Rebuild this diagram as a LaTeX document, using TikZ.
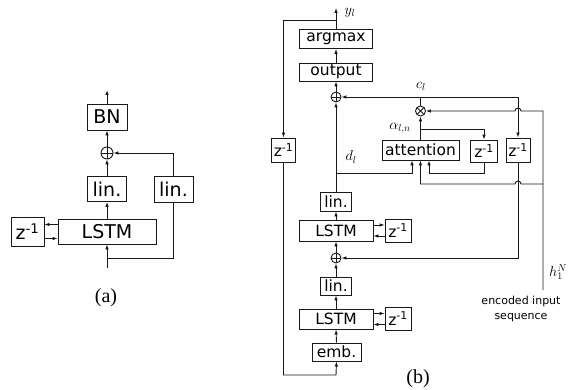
\documentclass[tikz,border=0pt]{standalone}
\usepackage{fontspec}
\setsansfont{DejaVu Sans}
\newfontfamily\capfont{Liberation Serif}
\usetikzlibrary{arrows.meta}
\begin{document}
\begin{tikzpicture}[x=1pt,y=1pt,
  line/.style={line width=0.9pt, black!90},
  arr/.style={line, -{Latex[length=5pt,width=3.6pt]}},
  boxa/.style={draw, line width=0.9pt, black!90, text=black, inner sep=0pt, font=\sffamily\fontsize{19}{19}\selectfont},
  boxb/.style={draw, line width=0.9pt, black!90, text=black, inner sep=0pt, font=\sffamily\fontsize{15.5}{15.5}\selectfont},
  zb/.style={boxb, minimum width=26, minimum height=23},
  sumstyle/.style={circle, draw, line width=0.9pt, black!90, inner sep=0pt},
  oplusnode/.style={sumstyle, path picture={\draw[line width=0.9pt, black!90] (path picture bounding box.north) -- (path picture bounding box.south) (path picture bounding box.west) -- (path picture bounding box.east);}},
  otimesnode/.style={sumstyle, path picture={\draw[line width=0.9pt, black!90] (path picture bounding box.north west) -- (path picture bounding box.south east) (path picture bounding box.north east) -- (path picture bounding box.south west);}},
  mlab/.style={inner sep=0pt, font=\fontsize{14.4}{16}\selectfont},
  captxt/.style={inner sep=0pt, font=\capfont\fontsize{20}{22}\selectfont}
  ]
\useasboundingbox (0,0) rectangle (572,-390);

% ---------------- (a) ----------------
\node[boxa, minimum width=40, minimum height=26] (BNa) at (107,-117) {BN};
\node[oplusnode, minimum size=12] (pa) at (107,-153) {};
\node[boxa, minimum width=39, minimum height=25] (linLa) at (107,-189) {lin.};
\node[boxa, minimum width=39, minimum height=26] (linRa) at (173.5,-189) {lin.};
\node[boxa, minimum width=98, minimum height=25] (lstma) at (107,-231.5) {LSTM};
\node[boxa, minimum width=33, minimum height=29] (za) at (27.5,-231.5) {z\textsuperscript{-1}};
\coordinate (ina) at (107,-268);
\coordinate (outa) at (107,-90);
\coordinate (bra) at (107,-258);
\coordinate (ha1) at (0,-224.5);
\coordinate (ha2) at (0,-238.5);

\draw[arr] (BNa.north) -- (outa);
\draw[arr] (pa.north) -- (BNa.south);
\draw[arr] (linLa.north) -- (pa.south);
\draw[arr] (linRa.north) |- (pa.east);
\draw[arr] (lstma.north) -- (linLa.south);
\draw[arr] (ina) -- (lstma.south);
\draw[line] (bra) -| (linRa.south);
\draw[arr] (lstma.west |- ha1) -- (za.east |- ha1);
\draw[arr] (za.east |- ha2) -- (lstma.west |- ha2);

\node[captxt] (capa) at (106,-298) {(a)};

% ---------------- (b) ----------------
\coordinate (yl) at (336,-8);
\node[mlab] (ylab) at (350,-13) {$y_l$};
\node[boxb, minimum width=73, minimum height=19] (argmax) at (336,-39) {argmax};
\node[boxb, minimum width=73, minimum height=18] (output) at (336,-72) {output};
\node[oplusnode, minimum size=10] (pu) at (336,-97) {};
\node[mlab] (clab) at (421,-86) {$c_l$};
\node[otimesnode, minimum size=10] (pt) at (420.5,-111) {};
\node[boxb, minimum width=77, minimum height=20] (att) at (420.5,-150) {attention};
\node[zb, minimum width=27, minimum height=22] (zmid) at (484,-151) {z\textsuperscript{-1}};
\node[zb, minimum width=24, minimum height=24] (zright) at (518,-150) {z\textsuperscript{-1}};
\node[zb, minimum width=24, minimum height=24] (zleft) at (283.5,-150) {z\textsuperscript{-1}};
\node[mlab] (alab) at (400,-128) {$\alpha_{l,n}$};
\node[mlab] (dlab) at (351,-157) {$d_l$};
\node[boxb, minimum width=31, minimum height=19] (linu) at (336,-201.5) {lin.};
\node[boxb, minimum width=74, minimum height=21] (lstmu) at (336,-230.5) {LSTM};
\node[zb] (zu) at (398,-230.5) {z\textsuperscript{-1}};
\node[oplusnode, minimum size=10] (pl) at (336,-258) {};
\node[boxb, minimum width=31, minimum height=18] (linl) at (336,-286) {lin.};
\node[boxb, minimum width=74, minimum height=20] (lstml) at (336,-319) {LSTM};
\node[zb] (zl) at (398,-318.5) {z\textsuperscript{-1}};
\node[boxb, minimum width=49, minimum height=18] (emb) at (336.5,-352) {emb.};

\coordinate (fbtop) at (336,-20);
\coordinate (fbbot) at (336,-375);
\coordinate (dl) at (336,-173);
\coordinate (cl) at (420.5,-97);
\coordinate (al) at (420.5,-129);
\coordinate (enc) at (543,-290);
\coordinate (encA) at (543,-111);
\coordinate (encB) at (543,-184);
\coordinate (hu1) at (0,-225);
\coordinate (hu2) at (0,-236);
\coordinate (hl1) at (0,-313.5);
\coordinate (hl2) at (0,-324.5);

\node[mlab] (hlab) at (558,-272) {$h_1^N$};
\node[inner sep=0pt, align=center, font=\sffamily\fontsize{11}{14.5}\selectfont] (enclab) at (521,-309) {encoded input\\sequence};

% main column
\draw[arr] (argmax.north) -- (yl);
\draw[arr] (output.north) -- (argmax.south);
\draw[arr] (pu.north) -- (output.south);
\draw[arr] (linu.north) -- (pu.south);
\draw[arr] (lstmu.north) -- (linu.south);
\draw[arr] (pl.north) -- (lstmu.south);
\draw[arr] (linl.north) -- (pl.south);
\draw[arr] (lstml.north) -- (linl.south);
\draw[arr] (emb.north) -- (lstml.south);

% recurrences
\draw[arr] (lstmu.east |- hu1) -- (zu.west |- hu1);
\draw[arr] (zu.west |- hu2) -- (lstmu.east |- hu2);
\draw[arr] (lstml.east |- hl1) -- (zl.west |- hl1);
\draw[arr] (zl.west |- hl2) -- (lstml.east |- hl2);

% output feedback
\draw[arr] (fbtop) -| (zleft.north);
\draw[arr] (zleft.south) |- (fbbot) -- (emb.south);

% attention part
\draw[arr] (dl) -| ([xshift=-8.5]att.south);
\draw[arr] (pt.north) -- (cl) -- (pu.east);
\draw[arr] (cl) -| (zright.north);
\draw[arr] (zright.south) |- (pl.east);
\draw[arr] (att.north) -- (pt.south);
\draw[arr] (al) -| (zmid.north);
\draw[arr] (zmid.south) -- (zmid.south |- dl) -| ([xshift=8.5]att.south);
\draw[arr] (enc) -- (encA) -- ([xshift=3]zright.center |- encA) arc[start angle=0, end angle=180, radius=3] -- (pt.east);
\draw[arr] (encB) -- ([xshift=3]zright.center |- encB) arc[start angle=0, end angle=180, radius=3] -- (att.south |- encB) -- (att.south);

\node[captxt] (capb) at (418,-379) {(b)};
\end{tikzpicture}
\end{document}
